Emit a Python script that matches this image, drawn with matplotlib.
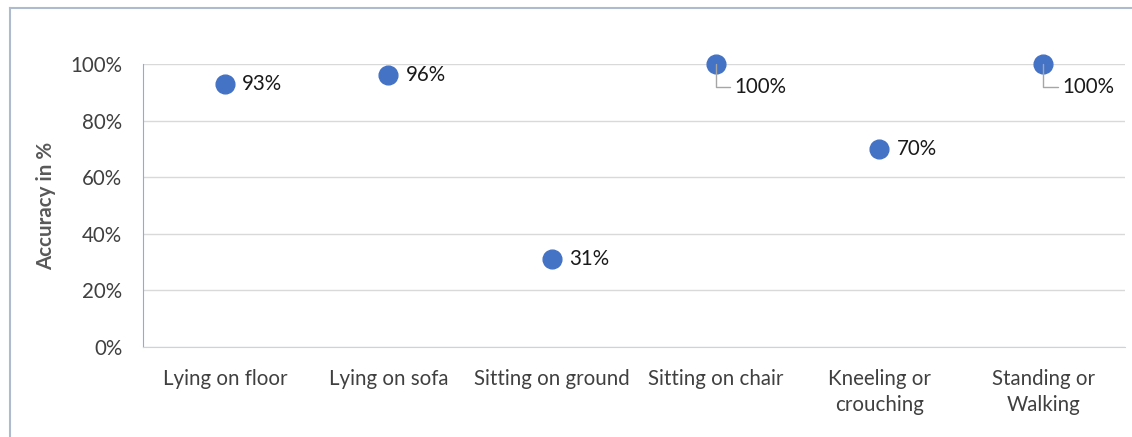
import matplotlib.pyplot as plt
from matplotlib.lines import Line2D
from matplotlib.ticker import PercentFormatter

plt.rcParams['font.family'] = ['Lato', 'DejaVu Sans']

# данные графика
categories = ['Lying on floor', 'Lying on sofa', 'Sitting on ground', 'Sitting on chair',
              'Kneeling or\ncrouching', 'Standing or\nWalking']
accuracy = [93, 96, 31, 100, 70, 100]

TEXT_COLOR = '#404040'
DOT_COLOR = '#4472C4'
FS = 14.8

fig = plt.figure(figsize=(11.32, 4.37), dpi=100)
ax = fig.add_axes([0.1263, 0.2059, 0.8675, 0.6476])

x = list(range(len(categories)))
ax.plot(x, accuracy, 'o', color=DOT_COLOR, markersize=13.5, linestyle='none',
        zorder=3, clip_on=False)

# подписи значений
for xi, val in zip(x, accuracy):
    label = f'{val}%'
    if val >= 100:
        ax.annotate(label, xy=(xi, val), xytext=(13.5, -16.5), textcoords='offset points',
                    ha='left', va='center', fontsize=FS, color='#1a1a1a',
                    arrowprops=dict(arrowstyle='-', color='#A6A6A6', lw=1,
                                    shrinkA=1, shrinkB=0,
                                    connectionstyle='angle,angleA=0,angleB=90,rad=0'))
    else:
        ax.annotate(label, xy=(xi, val), xytext=(12.5, 0), textcoords='offset points',
                    ha='left', va='center', fontsize=FS, color='#1a1a1a')

ax.set_xlim(-0.5, len(categories) - 0.5)
ax.set_ylim(0, 100)
ax.set_yticks([0, 20, 40, 60, 80, 100])
ax.yaxis.set_major_formatter(PercentFormatter(decimals=0))
ax.set_xticks(x)
ax.set_xticklabels(categories, linespacing=1.35)

ax.tick_params(axis='y', length=0, pad=15, labelsize=FS, labelcolor=TEXT_COLOR)
ax.tick_params(axis='x', length=0, pad=16, labelsize=FS, labelcolor=TEXT_COLOR)

ax.grid(axis='y', color='#D9D9D9', linewidth=1)
ax.set_axisbelow(True)
for side in ['top', 'right']:
    ax.spines[side].set_visible(False)
ax.spines['left'].set_color('#8FAADC')
ax.spines['bottom'].set_color('#C9D3E6')

ax.set_ylabel('Accuracy in %', fontsize=FS, color='#595959', fontweight='bold', labelpad=10)

# рамка области диаграммы
fig.add_artist(Line2D([0.0088, 1.0], [0.9817, 0.9817], transform=fig.transFigure,
                      color='#AEBBCF', lw=1.5))
fig.add_artist(Line2D([0.0088, 0.0088], [0.0, 0.9817], transform=fig.transFigure,
                      color='#AEBBCF', lw=1.5))

fig.savefig('out.png', dpi=100)
